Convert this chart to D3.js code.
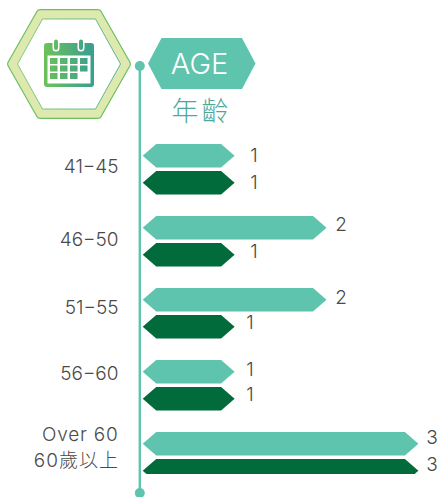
<!DOCTYPE html>
<html><head><meta charset="utf-8">
<script src="https://cdnjs.cloudflare.com/ajax/libs/d3/7.8.5/d3.min.js"></script>
<style>html,body{margin:0;padding:0;background:#fff}svg{display:block}
text{font-family:"Inter","Noto Sans CJK TC",sans-serif;font-weight:300}</style>
</head><body><svg id="c" width="441" height="497"></svg>
<script>
const categories = ["41−45","46−50","51−55","56−60","Over 60"];
const seriesA = [1,2,2,1,3];
const seriesB = [1,1,1,1,3];
const labelShiftA = [[19.5,18],[14.5,15],[14.5,16],[15.5,16],[13.5,12]];
const labelShiftB = [[19.5,18],[19.5,15],[15.5,14],[15.5,14],[13.5,12]];
const colors = ["#5fc4ad","#016b3b"];

const svg = d3.select("#c");
const defs = svg.append("defs");
const grad = (id,x1,x2,c1,c2)=>{const g=defs.append("linearGradient").attr("id",id).attr("gradientUnits","userSpaceOnUse")
  .attr("x1",x1).attr("x2",x2).attr("y1",0).attr("y2",0);
  g.append("stop").attr("offset",0).attr("stop-color",c1);g.append("stop").attr("offset",1).attr("stop-color",c2);};
grad("cal",46,92,"#6cc05c","#3a9f90");
grad("ring",17,121,"#6cc05c","#3a9f90");
defs.append("clipPath").attr("id","clip").append("rect").attr("x",0).attr("y",0).attr("width",441).attr("height",474);

const x = d3.scaleLinear().domain([0,3]).range([142.7,418.4]);
const y = d3.scaleBand().domain(categories).range([144,504]).paddingInner(0).paddingOuter(0);
const barH = 23.5, gap = 27, tip = 13.5;
const line = d3.line().curve(d3.curveLinearClosed);
const hexPath = (x0,x1,y0,y1,t)=>line([[x0,(y0+y1)/2],[x0+t,y0],[x1-t,y0],[x1,(y0+y1)/2],[x1-t,y1],[x0+t,y1]]);

// emblem
svg.append("path").attr("d",hexPath(11,127,13,115,29)).attr("fill","#6cc060").attr("stroke","#6cc060").attr("stroke-width",8).attr("stroke-linejoin","round");
svg.append("path").attr("d",hexPath(11,127,13,115,29)).attr("fill","#dde9ae").attr("stroke","#dde9ae").attr("stroke-width",5.6).attr("stroke-linejoin","round");
svg.append("path").attr("d",hexPath(17.5,120.5,19,109,25)).attr("fill","#fff").attr("stroke","url(#ring)").attr("stroke-width",.8);

// calendar icon
const cal = svg.append("g");
cal.append("rect").attr("x",44).attr("y",43).attr("width",50).attr("height",44).attr("rx",3).attr("fill","url(#cal)");
[56,81].forEach(cx=>{
  cal.append("rect").attr("x",cx-3.5).attr("y",39).attr("width",7).attr("height",12.5).attr("rx",3.5).attr("fill","#fff");
  cal.append("rect").attr("x",cx-2).attr("y",39.5).attr("width",4).attr("height",10.5).attr("rx",2).attr("fill","url(#cal)");
});
cal.append("rect").attr("x",47.5).attr("y",55.5).attr("width",43).attr("height",28).attr("fill","#fff");
const cellsX=[50,60,70,80], cellsY=[58,65.5,73];
cellsX.forEach((cx,i)=>cellsY.forEach((cy,j)=>{ if(i===3&&j===2)return;
  cal.append("rect").attr("x",cx).attr("y",cy).attr("width",7.5).attr("height",6).attr("fill","url(#cal)");}));

// axis spine
svg.append("line").attr("x1",139.8).attr("x2",139.8).attr("y1",66).attr("y2",492).attr("stroke",colors[0]).attr("stroke-width",2.4);
[66,493].forEach(cy=>svg.append("circle").attr("cx",139.8).attr("cy",cy).attr("r",5).attr("fill",colors[0]));

// title
svg.append("path").attr("d",hexPath(148,255.5,38,89,13.5)).attr("fill",colors[0]);
svg.append("text").attr("x",199.5).attr("y",74).attr("text-anchor","middle").attr("fill","#fff").attr("font-size",29).text("AGE");
svg.append("text").attr("x",201.5).attr("y",121).attr("text-anchor","middle").attr("fill","#4fa89a").attr("font-size",27).attr("letter-spacing",3).text("年齡");

// bars
const plot = svg.append("g").attr("clip-path","url(#clip)");
[seriesA,seriesB].forEach((vals,s)=>{
  plot.selectAll(null).data(vals).join("path")
    .attr("d",(v,i)=>{const y0=y(categories[i])+s*gap;return hexPath(x(0),x(v),y0,y0+barH,tip);})
    .attr("fill",colors[s]);
});
// value labels
[[seriesA,labelShiftA],[seriesB,labelShiftB]].forEach(([vals,sh],s)=>{
  svg.selectAll(null).data(vals).join("text")
    .attr("x",(v,i)=>x(v)+sh[i][0])
    .attr("y",(v,i)=>y(categories[i])+s*gap+sh[i][1])
    .attr("text-anchor","middle").attr("font-size",19).attr("fill","#4a4a4a").text(v=>v);
});
// category labels
const catY=[172.5,246,314,380,441];
svg.selectAll(null).data(categories).join("text").attr("x",118.5).attr("y",(d,i)=>catY[i])
  .attr("text-anchor","end").attr("font-size",19).attr("letter-spacing",(d,i)=>i===4?.8:0).attr("fill","#4a4a4a").text(d=>d);
svg.append("text").attr("x",119).attr("y",467).attr("text-anchor","end").attr("font-size",19).attr("letter-spacing",1).attr("fill","#4a4a4a").text("60歲以上");
</script></body></html>
